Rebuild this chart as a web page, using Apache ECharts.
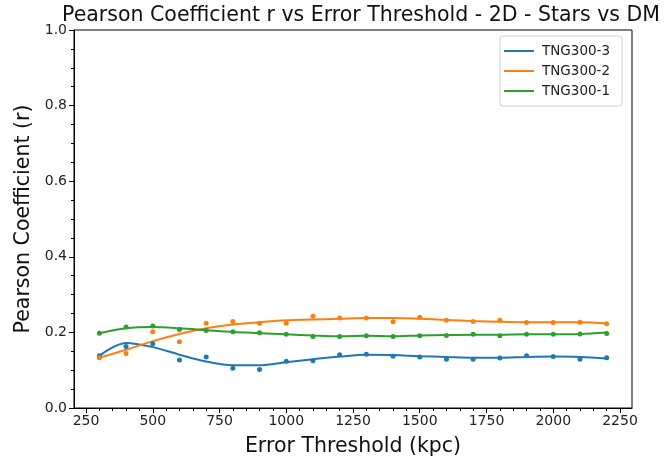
<!DOCTYPE html>
<html>
<head>
<meta charset="utf-8">
<script src="https://cdn.jsdelivr.net/npm/echarts@6/dist/echarts.min.js"></script>
<style>
  html, body { margin: 0; padding: 0; background: #fff; }
  #chart { width: 668px; height: 463px; }
</style>
</head>
<body>
<div id="chart"></div>
<script>
// error thresholds (kpc)
var thresholds = [300, 400, 500, 600, 700, 800, 900, 1000, 1100, 1200,
                  1300, 1400, 1500, 1600, 1700, 1800, 1900, 2000, 2100, 2200];

// measured points
var tng3Pts = [0.138, 0.163, 0.170, 0.127, 0.135, 0.105, 0.102, 0.124, 0.125, 0.141,
               0.142, 0.137, 0.135, 0.129, 0.129, 0.132, 0.138, 0.136, 0.129, 0.133];
var tng2Pts = [0.133, 0.144, 0.202, 0.175, 0.224, 0.229, 0.224, 0.224, 0.243, 0.238,
               0.238, 0.228, 0.240, 0.232, 0.229, 0.232, 0.226, 0.226, 0.227, 0.223];
var tng1Pts = [0.198, 0.214, 0.217, 0.208, 0.205, 0.202, 0.199, 0.195, 0.189, 0.189,
               0.191, 0.189, 0.191, 0.192, 0.195, 0.191, 0.195, 0.195, 0.196, 0.197];

// smoothed curves
var tng3Fit = [0.138, 0.172, 0.161, 0.141, 0.123, 0.113, 0.113, 0.121, 0.129, 0.136,
               0.141, 0.140, 0.137, 0.135, 0.133, 0.133, 0.135, 0.136, 0.135, 0.131];
var tng2Fit = [0.133, 0.154, 0.177, 0.196, 0.211, 0.221, 0.227, 0.232, 0.234, 0.236,
               0.238, 0.238, 0.236, 0.233, 0.230, 0.228, 0.227, 0.227, 0.227, 0.224];
var tng1Fit = [0.198, 0.211, 0.214, 0.211, 0.206, 0.201, 0.198, 0.195, 0.192, 0.190,
               0.191, 0.190, 0.192, 0.193, 0.194, 0.194, 0.195, 0.195, 0.196, 0.200];

var xMajor = [250, 500, 750, 1000, 1250, 1500, 1750, 2000, 2250];
var xMinor = [];
for (var v = 250; v <= 2250; v += 50) { if (v % 250 !== 0) xMinor.push(v); }

var names = ['TNG300-3', 'TNG300-2', 'TNG300-1'];
var colors = ['#1f77b4', '#ff7f0e', '#2ca02c'];

function pairs(ys) {
  return thresholds.map(function (x, i) { return [x, ys[i]]; });
}

var font = 'DejaVu Sans';
var chart = echarts.init(document.getElementById('chart'));

var series = [];
[tng3Fit, tng2Fit, tng1Fit].forEach(function (d, i) {
  series.push({
    name: names[i], type: 'line', data: pairs(d), smooth: 0.35,
    showSymbol: false, lineStyle: { width: 2, color: colors[i] }, itemStyle: { color: colors[i] },
    z: 2
  });
});
[tng3Pts, tng2Pts, tng1Pts].forEach(function (d, i) {
  series.push({
    name: names[i] + ' pts', type: 'scatter', data: pairs(d), symbolSize: 5,
    itemStyle: { color: colors[i], opacity: 1 }, z: 3
  });
});

chart.setOption({
  animation: false,
  textStyle: { fontFamily: font },
  title: {
    text: 'Pearson Coefficient r vs Error Threshold - 2D - Stars vs DM',
    left: 356, top: 0, textAlign: 'center',
    textStyle: { fontFamily: font, fontSize: 20.5, fontWeight: 'normal', color: '#111' }
  },
  legend: {
    data: names, orient: 'vertical', left: 500, top: 36,
    padding: [8, 12, 8, 4], itemGap: 6, itemWidth: 30, itemHeight: 2, icon: 'rect',
    borderColor: '#d0d0d0', borderWidth: 1, borderRadius: 3, backgroundColor: '#fff',
    textStyle: { fontFamily: font, fontSize: 13.5, color: '#222', padding: [0, 0, 0, 3] }
  },
  grid: {
    left: 74, right: 36, top: 30, bottom: 55,
    show: true, borderColor: '#000', borderWidth: 1, backgroundColor: '#fff'
  },
  xAxis: [{
    type: 'value', min: 205, max: 2295,
    name: 'Error Threshold (kpc)', nameLocation: 'middle', nameGap: 28,
    nameTextStyle: { fontFamily: font, fontSize: 20.5, color: '#111' },
    axisLine: { show: true, lineStyle: { color: '#000' } },
    axisTick: { show: true, length: 5, customValues: xMajor, lineStyle: { color: '#000' } },
    axisLabel: { customValues: xMajor, margin: 6, fontFamily: font, fontSize: 14, color: '#222',
      formatter: function (v) { return String(v); } },
    splitLine: { show: false }
  }, {
    type: 'value', min: 205, max: 2295, position: 'bottom',
    axisLine: { show: false },
    axisTick: { show: true, length: 3, customValues: xMinor, lineStyle: { color: '#000' } },
    axisLabel: { show: false },
    splitLine: { show: false }
  }],
  yAxis: {
    type: 'value', min: 0, max: 1, interval: 0.2,
    name: 'Pearson Coefficient (r)', nameLocation: 'middle', nameGap: 38,
    nameTextStyle: { fontFamily: font, fontSize: 20.5, color: '#111' },
    axisLine: { show: true, lineStyle: { color: '#000' } },
    axisTick: { show: true, length: 5, lineStyle: { color: '#000' } },
    minorTick: { show: true, splitNumber: 4, length: 3, lineStyle: { color: '#000' } },
    axisLabel: { margin: 7, fontFamily: font, fontSize: 14, color: '#222',
      formatter: function (v) { return v.toFixed(1); } },
    splitLine: { show: false }
  },
  series: series
});
</script>
</body>
</html>
